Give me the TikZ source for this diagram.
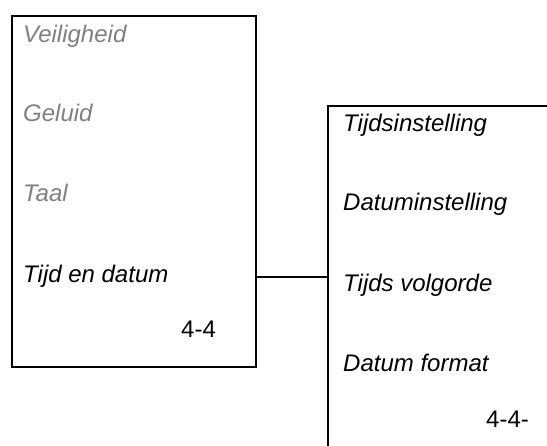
\documentclass[tikz,border=0pt]{standalone}
\usepackage{fontspec}
\setmainfont{Liberation Sans}
\definecolor{dimtext}{HTML}{808080}
\begin{document}
\begin{tikzpicture}[x=1pt,y=-1pt,
  frame/.style={draw=black, line width=2pt, inner sep=0pt, anchor=north west},
  item/.style={anchor=base west, inner sep=0pt, font=\fontsize{24}{28}\selectfont\itshape},
  dim/.style={item, text=dimtext},
  pagenum/.style={anchor=base west, inner sep=0pt, font=\fontsize{24}{28}\selectfont},
  link/.style={draw=black, line width=2pt}]
\useasboundingbox (0,0) rectangle (547,446);
\clip (0,0) rectangle (547,446);
% boxes
\node[frame, minimum width=244pt, minimum height=351pt] (L) at (11,15) {};
\node[frame, minimum width=300pt, minimum height=420pt] (R) at (327,105) {};
% left menu
\node[dim] (veil) at (23,43) {Veiligheid};
\node[dim] (gel) at (23,122) {Geluid};
\node[dim] (taal) at (23,202) {Taal};
\node[item] (tijd) at (23,283) {Tijd en datum};
\node[pagenum] (pL) at (181,338) {4-4};
% right menu
\node[item] (tins) at (343,132) {Tijdsinstelling};
\node[item] (dins) at (343,211) {Datuminstelling};
\node[item] (tvol) at (343,292) {Tijds volgorde};
\node[item] (dfor) at (343,372) {Datum format};
\node[pagenum] (pR) at (486,428) {4-4-};
% connector
\draw[link] (L.east |- tijd) -- (R.west |- tijd);
\end{tikzpicture}
\end{document}
